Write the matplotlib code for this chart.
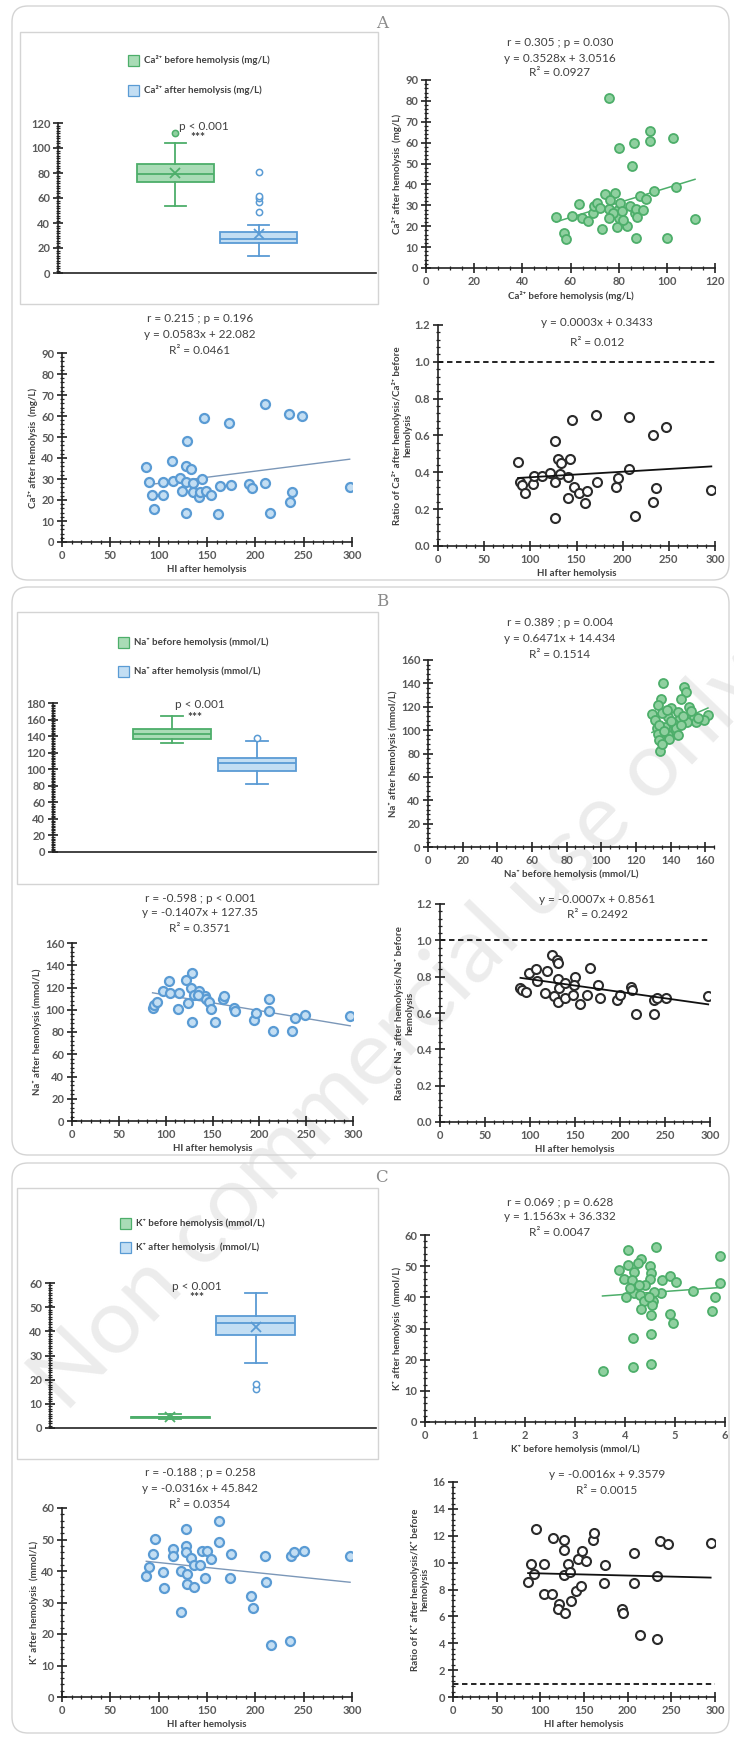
import numpy as np
import matplotlib
matplotlib.use('Agg')
import matplotlib.pyplot as plt
from matplotlib.patches import FancyBboxPatch, Rectangle
from matplotlib.ticker import MultipleLocator, FormatStrFormatter

# ------------------------------------------------------------------ data
# box plots: [whislo, q1, median, q3, whishi, mean]
ca_before_box = [54, 73, 79, 87, 104, 80]
ca_before_out = [112]
ca_after_box = [14, 24, 27.5, 33, 38.5, 31]
ca_after_out = [49, 57, 60, 62, 81]
na_before_box = [132, 136.5, 142.5, 148, 164, 142]
na_before_out = []
na_after_box = [82, 98, 107, 113.5, 134, 106]
na_after_out = [138]
k_before_box = [3.6, 4.2, 4.45, 4.75, 5.9, 4.5]
k_before_out = []
k_after_box = [27, 38.5, 43.5, 46.5, 56, 42]
k_after_out = [16.3, 18.3]

box_labels_ca = ["Ca²⁺ before hemolysis (mg/L)", "Ca²⁺ after hemolysis (mg/L)"]
box_labels_na = ["Na⁺ before hemolysis (mmol/L)", "Na⁺ after hemolysis (mmol/L)"]
box_labels_k = ["K⁺ before hemolysis (mmol/L)", "K⁺ after hemolysis  (mmol/L)"]

# Ca before vs after
ca_before = [76, 93, 93, 102.4, 80, 86.5, 85.7, 54, 60.8, 63.7, 64.8, 67.4, 69.5, 69.8,
             70.9, 73, 74.5, 78.5, 76, 72.2, 79.6, 80.6, 80, 79.4, 83.3, 81.5, 84.7, 86.8,
             87.2, 87.5, 90.2, 88.9, 91.4, 94.7, 104, 111.7, 87.2, 100, 57.3, 58.2, 77.8,
             76.1, 76.4, 81.9]
ca_after = [81.5, 65.8, 60.8, 62, 57.3, 59.7, 49, 24.2, 24.7, 30.4, 23.9, 22.6, 26.3, 29.5,
            31, 18.6, 35.5, 36, 28.4, 28.7, 28, 31, 23.9, 19.6, 19.9, 27.4, 29.5, 26.3,
            28.4, 24.4, 27.9, 34.6, 33.1, 37, 39, 23.4, 14.5, 14.5, 16.7, 13.9, 26.3,
            23.9, 32.7, 23.1]
ca_fit = [0.3528, 3.0516]

# HI vs Ca after
hi_ca = [86.8, 89.9, 93.3, 95.4, 104, 104.7, 114, 114.4, 122, 123.7, 128, 129, 128.2, 128.2,
         133, 135, 135.9, 142, 142.8, 144.5, 147, 148.6, 153.8, 161.8, 163.5, 174.6, 172.8,
         193.9, 196.3, 209.5, 209.5, 214.7, 235, 235.4, 238.2, 248.2, 297.6]
ca_hi = [35.5, 28.4, 22.3, 15.9, 22.3, 28.7, 38.5, 29.1, 30.6, 24.2, 36.2, 48.3, 14, 28.7,
         35, 27.9, 23.7, 21.2, 23.9, 29.9, 58.9, 24.2, 22.6, 13.2, 26.6, 27.1, 56.5,
         27.4, 25.5, 65.5, 27.9, 14, 61, 19.1, 23.6, 60.2, 26]
ca_hi_fit = [0.0583, 22.082]

# HI vs Ca ratio
hi_ca_ratio = [86.7, 88.4, 91.5, 94.6, 102.6, 103.8, 112.8, 121, 127.2, 127.2, 127, 129.7,
               132.6, 133.7, 141, 140.6, 143.5, 145.3, 147, 152.5, 159.7, 161.6, 170.6,
               172.4, 192.3, 194.8, 206.7, 207.4, 213.2, 233, 232.7, 236.4, 246.5, 296]
ca_ratio = [0.458, 0.346, 0.33, 0.29, 0.335, 0.38, 0.38, 0.398, 0.57, 0.15, 0.35, 0.47,
            0.389, 0.449, 0.376, 0.259, 0.47, 0.684, 0.318, 0.286, 0.235, 0.299, 0.711,
            0.349, 0.318, 0.367, 0.416, 0.702, 0.165, 0.603, 0.241, 0.317, 0.648, 0.304]
ca_ratio_fit = [0.0003, 0.3433]

# Na before vs after
na_before = [135.4, 134.4, 132.6, 129.2, 131, 132, 132.6, 133.3, 133.9, 147.9, 148.8, 146,
             150.7, 140.4, 138.5, 144, 145, 150, 153.5, 154.4, 149.7, 161.5, 142.3, 136.7,
             138.5, 134.8, 141.3, 143, 145.7, 137.6, 159, 133, 136, 139, 135, 140, 147,
             152, 156, 144]
na_after = [140.6, 127, 121.4, 113.4, 108.6, 101.4, 97.1, 91.4, 82.3, 136.6, 132.9, 127,
            119.4, 118.6, 111.4, 115.7, 108.6, 111.4, 111.4, 107, 107, 112.9, 100, 102.9,
            95.7, 114.3, 105.7, 101.4, 104.3, 117, 108.6, 104, 99, 92, 88, 108, 112,
            116, 110, 96]
na_fit = [0.6471, 14.434]

# HI vs Na after
hi_na = [86, 88, 91, 97, 104, 105, 114, 113.5, 121.7, 127.7, 127.3, 130, 128, 135.8,
         141.5, 142.6, 146, 147.9, 153, 161.3, 162, 172.6, 174.4, 193.8, 196.3, 209.8,
         209.8, 215, 235, 238, 248.7, 297, 124, 135]
na_hi = [102, 104, 107, 117, 126, 115, 115, 101, 127, 133, 120, 113, 89, 117,
         112, 110, 107, 101, 89, 110, 112, 102, 99, 91, 97, 110, 99,
         81, 81, 93, 95, 94, 106, 113]
na_hi_fit = [-0.1407, 127.35]

# HI vs Na ratio
hi_na_ratio = [89.4, 91.2, 95, 98.6, 107, 107.9, 117, 119, 124.5, 126.3, 130, 131, 130.8,
               132, 130.8, 139.3, 139.3, 147.4, 150.4, 148.5, 155.9, 163.3, 166.2, 175.5,
               177.3, 196.5, 199.5, 212.4, 213, 218, 237.9, 237.9, 241.6, 251.2, 298]
na_ratio = [0.735, 0.726, 0.717, 0.82, 0.84, 0.777, 0.711, 0.832, 0.919, 0.693, 0.891,
            0.876, 0.785, 0.74, 0.661, 0.763, 0.685, 0.698, 0.796, 0.753, 0.652, 0.698,
            0.845, 0.753, 0.68, 0.67, 0.698, 0.744, 0.726, 0.594, 0.597, 0.67, 0.684,
            0.684, 0.693]
na_ratio_fit = [-0.0007, 0.8561]

# K before vs after
k_before = [4.05, 4.61, 5.9, 4.32, 4.25, 4.05, 3.88, 3.97, 4.17, 4.13, 4.49, 4.51, 4.5,
            4.4, 4.27, 4.73, 4.9, 5.02, 5.9, 5.35, 4.71, 4.58, 4.17, 4.3, 4.02, 4.37,
            4.55, 4.31, 4.53, 5.8, 5.73, 4.51, 4.9, 4.95, 4.52, 4.15, 3.55, 4.15, 4.52,
            4.1, 4.47]
k_after = [55.2, 56, 53.4, 52.3, 50.9, 50.4, 48.8, 45.8, 48.2, 45.5, 50, 47.7, 45.9,
           43.9, 43.9, 45.5, 46.9, 45, 44.5, 42, 41.3, 41.8, 41.3, 40.9, 40, 38.9,
           38.8, 36.4, 37.5, 40, 35.7, 34.3, 34.8, 31.9, 28.1, 27, 16.3, 17.5, 18.5,
           42.9, 40.2]
k_fit = [1.1563, 36.332]

# HI vs K after
hi_k = [87.2, 90.3, 93.8, 95.9, 104.5, 105.2, 114.5, 114.5, 123.4, 123.4, 128.6, 128.6,
        128.6, 129.3, 129.3, 133.4, 136.2, 136.2, 143.1, 144.8, 147.6, 150, 154.1, 162.8,
        162.8, 175.2, 173.4, 195.5, 197.2, 210.3, 211, 216.2, 236.2, 236.9, 239.7, 250,
        298]
k_hi = [38.5, 41.2, 45.4, 50.2, 39.8, 34.5, 46.9, 44.8, 27.1, 40, 53.3, 47.8, 45.9, 39,
        35.8, 44.1, 41.9, 34.8, 41.9, 46.2, 37.7, 46.2, 43.9, 56, 49.1, 45.4, 37.9, 32.1,
        28.1, 44.9, 36.4, 16.5, 17.7, 44.8, 46, 46.4, 44.9]
k_hi_fit = [-0.0316, 45.842]

# HI vs K ratio
hi_k_ratio = [86, 89.4, 92.5, 95.5, 104, 104, 113.5, 114.2, 121.9, 120.4, 126.9, 126.9,
              126.9, 128, 131.8, 134.5, 135.3, 141.4, 143.3, 146, 147.9, 152.8, 160.5, 162,
              173.5, 172.7, 193, 194.9, 207.1, 207.1, 213.6, 233.9, 233.9, 236.5, 246.5, 295]
k_ratio = [8.56, 9.92, 9.18, 12.53, 9.92, 7.69, 7.69, 11.86, 6.95, 6.57, 11.66, 10.96,
           9.05, 6.25, 9.87, 9.3, 7.14, 7.89, 10.3, 8.26, 10.84, 10.12, 11.71, 12.23,
           9.85, 8.48, 6.57, 6.25, 10.72, 8.48, 4.64, 4.29, 9.0, 11.59, 11.41, 11.46]
k_ratio_fit = [-0.0016, 9.3579]

# ------------------------------------------------------------------ style
W, H = 734, 1737
plt.rcParams['font.family'] = ['Lato', 'DejaVu Sans']
fig = plt.figure(figsize=(W / 100, H / 100), dpi=100)
fig.patch.set_facecolor('white')

GREEN_F, GREEN_E = '#8fd09f', '#4dae6a'
GREEN_BOX = '#a9dcb6'
BLUE_F, BLUE_E = '#c3def3', '#5a9bd4'
TXT = '#404040'
TICK = '#595959'


def px_axes(l, t, r, b):
    ax = fig.add_axes([l / W, 1 - b / H, (r - l) / W, (b - t) / H])
    ax.patch.set_alpha(0)
    return ax


def ftext(x, y, s, **kw):
    return fig.text(x / W, 1 - y / H, s, **kw)


def frame(l, t, r, b, rounded=True, ec='#d4d4d4'):
    if rounded:
        p = FancyBboxPatch((l / 100, (H - b) / 100), (r - l) / 100, (b - t) / 100,
                           boxstyle='round,pad=0,rounding_size=0.16',
                           transform=fig.dpi_scale_trans, fill=False, ec=ec, lw=1.0)
    else:
        p = Rectangle((l / 100, (H - b) / 100), (r - l) / 100, (b - t) / 100,
                      transform=fig.dpi_scale_trans, fill=False, ec=ec, lw=1.0)
    fig.add_artist(p)


def style(ax, xmaj, xmin, ymaj, ymin, xlim, ylim, yfmt=None, xticks=True):
    for s in ['top', 'right']:
        ax.spines[s].set_visible(False)
    for s in ['left', 'bottom']:
        ax.spines[s].set_linewidth(1.2)
        ax.spines[s].set_color('#222222')
    ax.set_xlim(*xlim)
    ax.set_ylim(*ylim)
    ax.yaxis.set_major_locator(MultipleLocator(ymaj))
    ax.yaxis.set_minor_locator(MultipleLocator(ymin))
    if yfmt:
        ax.yaxis.set_major_formatter(FormatStrFormatter(yfmt))
    if xticks:
        ax.xaxis.set_major_locator(MultipleLocator(xmaj))
        ax.xaxis.set_minor_locator(MultipleLocator(xmin))
    else:
        ax.set_xticks([])
    ax.tick_params(which='major', direction='inout', length=7, width=1.2,
                   color='#222222', labelsize=8, labelcolor=TICK, pad=2)
    ax.tick_params(which='minor', direction='inout', length=3.5, width=0.9,
                   color='#222222')
    for lab in ax.get_xticklabels() + ax.get_yticklabels():
        lab.set_fontweight('bold')


def draw_boxes(ax, boxes, outs, show_means=True):
    stats = []
    for b, o in zip(boxes, outs):
        d = dict(whislo=b[0], q1=b[1], med=b[2], q3=b[3], whishi=b[4], fliers=o)
        if show_means:
            d['mean'] = b[5]
        stats.append(d)
    bp = ax.bxp(stats, positions=[1, 2], widths=0.92, patch_artist=True,
                showmeans=show_means, capwidths=[0.25, 0.25])
    fcs = [GREEN_BOX, BLUE_F]
    ecs = [GREEN_E, BLUE_E]
    mfcs = [GREEN_F, 'white']
    for i in range(2):
        bp['boxes'][i].set(facecolor=fcs[i], edgecolor=ecs[i], linewidth=1.3)
        bp['medians'][i].set(color=ecs[i], linewidth=1.3)
        for w in bp['whiskers'][2 * i:2 * i + 2]:
            w.set(color=ecs[i], linewidth=1.3)
        for c in bp['caps'][2 * i:2 * i + 2]:
            c.set(color=ecs[i], linewidth=1.3)
        bp['fliers'][i].set(marker='o', markerfacecolor=mfcs[i], markeredgecolor=ecs[i],
                            markersize=4.5, markeredgewidth=1.1)
        if show_means:
            bp['means'][i].set(marker='x', markeredgecolor=ecs[i], markersize=7,
                               markeredgewidth=1.3)


def legend_box(x, y1, y2, labels):
    for yy, lab, fc, ec in zip([y1, y2], labels, [GREEN_BOX, BLUE_F], [GREEN_E, BLUE_E]):
        fig.add_artist(Rectangle((x / 100, (H - yy - 5.5) / 100), 0.11, 0.11,
                                 transform=fig.dpi_scale_trans, fc=fc, ec=ec, lw=0.9))
        ftext(x + 16, yy, lab, fontsize=7, fontweight='bold', color=TXT,
              ha='left', va='center')


def scatter_plot(ax, x, y, fit, kind):
    if kind == 'green':
        ax.scatter(x, y, s=42, facecolor=GREEN_F, edgecolor=GREEN_E, linewidths=1.3, zorder=3)
        lc, lw = GREEN_E, 1.1
    elif kind == 'blue':
        ax.scatter(x, y, s=42, facecolor=BLUE_F, edgecolor=BLUE_E, linewidths=1.6, zorder=3)
        lc, lw = '#7b97b8', 1.0
    else:
        ax.scatter(x, y, s=42, facecolor='white', edgecolor='#2b2b2b', linewidths=1.5, zorder=3)
        lc, lw = '#111111', 1.3
    xs = np.array([min(x), max(x)])
    ax.plot(xs, fit[0] * xs + fit[1], color=lc, lw=lw, zorder=4 if kind == 'black' else 2)


def lab(ax, xl=None, yl=None, ylpad=2):
    if xl:
        ax.set_xlabel(xl, fontsize=7, fontweight='bold', color=TXT, labelpad=3)
    if yl:
        ax.set_ylabel(yl, fontsize=7, fontweight='bold', color=TXT, labelpad=ylpad,
                      linespacing=1.1)


# ------------------------------------------------------------------ watermark (behind everything)
ftext(400, 1030, 'Non commercial use only', rotation=46, fontsize=66, color='#ececec',
      ha='center', va='center', zorder=-10)

# ------------------------------------------------------------------ frames
frame(12, 6, 729, 580)
frame(12, 587, 729, 1155)
frame(12, 1163, 729, 1733)
frame(20, 32, 378, 304, rounded=False)
frame(17, 612, 378, 884, rounded=False)
frame(17, 1188, 378, 1459, rounded=False)

for letter, (lx, ly) in zip(['A', 'B', 'C'], [(382, 24), (382, 601), (381, 1177)]):
    ftext(lx, ly, letter, fontsize=12, color='#8a8a8a', family='DejaVu Serif',
          ha='center', va='center')

XL = (-0.4, 3.4)

# ------------------------------------------------------------------ section A
ax = px_axes(58, 123, 376, 273)
draw_boxes(ax, [ca_before_box, ca_after_box], [ca_before_out, ca_after_out])
style(ax, 1, 1, 20, 2, XL, (0, 120), xticks=False)
legend_box(128, 60, 90, box_labels_ca)
ftext(204, 127, 'p < 0.001', fontsize=8.5, color=TXT, ha='center', va='center')
ftext(198, 138, '***', fontsize=8.5, color=TXT, ha='center', va='center', fontweight='bold')

ax = px_axes(426, 80, 715, 268)
scatter_plot(ax, ca_before, ca_after, ca_fit, 'green')
style(ax, 20, 5, 10, 2, (0, 120), (0, 90))
lab(ax, 'Ca²⁺ before hemolysis (mg/L)', 'Ca²⁺ after hemolysis  (mg/L)')
for yy, s in zip([43, 58, 73], ['r = 0.305 ; p = 0.030', 'y = 0.3528x + 3.0516', 'R² = 0.0927']):
    ftext(560, yy, s, fontsize=8.5, color=TXT, ha='center', va='center')

ax = px_axes(62, 353, 352, 542)
scatter_plot(ax, hi_ca, ca_hi, ca_hi_fit, 'blue')
style(ax, 50, 10, 10, 2, (0, 300), (0, 90))
lab(ax, 'HI after hemolysis', 'Ca²⁺ after hemolysis  (mg/L)')
for yy, s in zip([319, 334, 350], ['r = 0.215 ; p = 0.196', 'y = 0.0583x + 22.082', 'R² = 0.0461']):
    ftext(200, yy, s, fontsize=8.5, color=TXT, ha='center', va='center')

ax = px_axes(438, 325, 715, 546)
scatter_plot(ax, hi_ca_ratio, ca_ratio, ca_ratio_fit, 'black')
ax.axhline(1.0, color='#111111', lw=1.3, ls=(0, (3, 2)))
style(ax, 50, 10, 0.2, 0.04, (0, 300), (0, 1.2), yfmt='%.1f')
lab(ax, 'HI after hemolysis', 'Ratio of Ca²⁺ after hemolysis/Ca²⁺ before\nhemolysis')
for yy, s in zip([323, 342], ['y = 0.0003x + 0.3433', 'R² = 0.012']):
    ftext(597, yy, s, fontsize=8.5, color=TXT, ha='center', va='center')

# ------------------------------------------------------------------ section B
ax = px_axes(53, 703, 376, 852)
draw_boxes(ax, [na_before_box, na_after_box], [na_before_out, na_after_out], show_means=False)
style(ax, 1, 1, 20, 2, XL, (0, 180), xticks=False)
legend_box(118, 642, 671, box_labels_na)
ftext(200, 705, 'p < 0.001', fontsize=8.5, color=TXT, ha='center', va='center')
ftext(195, 717, '***', fontsize=8.5, color=TXT, ha='center', va='center', fontweight='bold')

ax = px_axes(428, 660, 714, 847)
scatter_plot(ax, na_before, na_after, na_fit, 'green')
style(ax, 20, 5, 20, 4, (0, 165), (0, 160))
lab(ax, 'Na⁺ before hemolysis (mmol/L)', 'Na⁺ after hemolysis (mmol/L)')
for yy, s in zip([623, 639, 655], ['r = 0.389 ; p = 0.004', 'y = 0.6471x + 14.434', 'R² = 0.1514']):
    ftext(560, yy, s, fontsize=8.5, color=TXT, ha='center', va='center')

ax = px_axes(72, 943, 353, 1121)
scatter_plot(ax, hi_na, na_hi, na_hi_fit, 'blue')
style(ax, 50, 10, 20, 4, (0, 300), (0, 160))
lab(ax, 'HI after hemolysis', 'Na⁺ after hemolysis (mmol/L)')
for yy, s in zip([898, 913, 928], ['r = -0.598 ; p < 0.001', 'y = -0.1407x + 127.35', 'R² = 0.3571']):
    ftext(200, yy, s, fontsize=8.5, color=TXT, ha='center', va='center')

ax = px_axes(440, 904, 710, 1122)
scatter_plot(ax, hi_na_ratio, na_ratio, na_ratio_fit, 'black')
ax.axhline(1.0, color='#111111', lw=1.3, ls=(0, (3, 2)))
style(ax, 50, 10, 0.2, 0.04, (0, 300), (0, 1.2), yfmt='%.1f')
lab(ax, 'HI after hemolysis', 'Ratio of Na⁺ after hemolysis/Na⁺ before\nhemolysis')
for yy, s in zip([900, 915], ['y = -0.0007x + 0.8561', 'R² = 0.2492']):
    ftext(597, yy, s, fontsize=8.5, color=TXT, ha='center', va='center')

# ------------------------------------------------------------------ section C
ax = px_axes(50, 1283, 376, 1428)
draw_boxes(ax, [k_before_box, k_after_box], [k_before_out, k_after_out])
style(ax, 1, 1, 10, 1, XL, (0, 60), xticks=False)
legend_box(120, 1223, 1247, box_labels_k)
ftext(197, 1286, 'p < 0.001', fontsize=8.5, color=TXT, ha='center', va='center')
ftext(197, 1297, '***', fontsize=8.5, color=TXT, ha='center', va='center', fontweight='bold')

ax = px_axes(425, 1235, 725, 1422)
scatter_plot(ax, k_before, k_after, k_fit, 'green')
style(ax, 1, 0.2, 10, 2, (0, 6), (0, 60))
lab(ax, 'K⁺ before hemolysis (mmol/L)', 'K⁺ after hemolysis  (mmol/L)')
for yy, s in zip([1202, 1217, 1232], ['r = 0.069 ; p = 0.628', 'y = 1.1563x + 36.332', 'R² = 0.0047']):
    ftext(560, yy, s, fontsize=8.5, color=TXT, ha='center', va='center')

ax = px_axes(62, 1508, 352, 1697)
scatter_plot(ax, hi_k, k_hi, k_hi_fit, 'blue')
style(ax, 50, 10, 10, 2, (0, 300), (0, 60))
lab(ax, 'HI after hemolysis', 'K⁺ after hemolysis  (mmol/L)')
for yy, s in zip([1473, 1488, 1504], ['r = -0.188 ; p = 0.258', 'y = -0.0316x + 45.842', 'R² = 0.0354']):
    ftext(200, yy, s, fontsize=8.5, color=TXT, ha='center', va='center')

ax = px_axes(453, 1482, 715, 1697)
scatter_plot(ax, hi_k_ratio, k_ratio, k_ratio_fit, 'black')
ax.axhline(1.0, color='#111111', lw=1.3, ls=(0, (3, 2)))
style(ax, 50, 10, 2, 0.4, (0, 300), (0, 16))
lab(ax, 'HI after hemolysis', 'Ratio of K⁺ after hemolysis/K⁺ before\nhemolysis')
for yy, s in zip([1475, 1490], ['y = -0.0016x + 9.3579', 'R² = 0.0015']):
    ftext(607, yy, s, fontsize=8.5, color=TXT, ha='center', va='center')

fig.savefig('out.png', dpi=100, facecolor='white')
